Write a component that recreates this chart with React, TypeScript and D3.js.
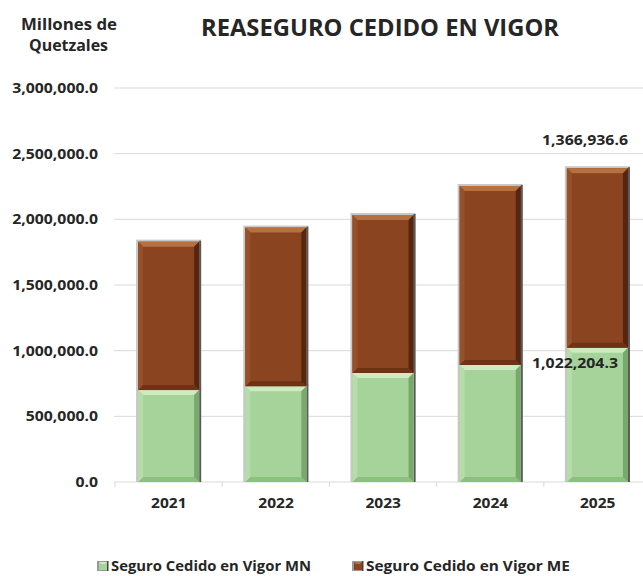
import React from "react";
import * as d3 from "d3";

const years = ["2021", "2022", "2023", "2024", "2025"];
const seguroMN = [700000, 730000, 830000, 891000, 1022204.3];
const seguroME = [1130000, 1207000, 1203000, 1363000, 1366936.6];
const yTicks = [0, 500000, 1000000, 1500000, 2000000, 2500000, 3000000];
const seriesNames = ["Seguro Cedido en Vigor MN", "Seguro Cedido en Vigor ME"];

const W = 643;
const H = 576;
const FONT = "'Open Sans', sans-serif";
const INK = "#262626";

const palettes = [
  { main: "#a5d39a", top: "#cdeac0", bottom: "#8cc07f", left: "#b6dcaa", right: "#78a86c" },
  { main: "#8a4520", top: "#b7703f", bottom: "#6e3314", left: "#96512a", right: "#552610" },
];

function Bevel({ x, y, w, h, p, b = 5 }: any) {
  const bb = Math.min(b, h / 2, w / 2);
  const x1 = x + w;
  const y1 = y + h;
  return (
    <g>
      <rect x={x - 2} y={y - 2} width={w + 4} height={h + 2} fill="#c8c8c8" />
      <rect x={x1} y={y - 1} width={2} height={h + 1} fill="#5a5a5a" />
      <rect x={x} y={y} width={w} height={h} fill={p.main} />
      <polygon points={`${x},${y} ${x1},${y} ${x1 - bb},${y + bb} ${x + bb},${y + bb}`} fill={p.top} />
      <polygon points={`${x},${y1} ${x1},${y1} ${x1 - bb},${y1 - bb} ${x + bb},${y1 - bb}`} fill={p.bottom} />
      <polygon points={`${x},${y} ${x + bb},${y + bb} ${x + bb},${y1 - bb} ${x},${y1}`} fill={p.left} />
      <polygon points={`${x1},${y} ${x1 - bb},${y + bb} ${x1 - bb},${y1 - bb} ${x1},${y1}`} fill={p.right} />
    </g>
  );
}

function LegendIcon({ x, y, p }: any) {
  return (
    <g>
      <rect x={x} y={y} width={11} height={10} fill="#9a9a9a" />
      <rect x={x + 2} y={y + 1} width={8} height={8} fill={p.main} />
      <polygon points={`${x + 2},${y + 1} ${x + 10},${y + 1} ${x + 8},${y + 3} ${x + 4},${y + 3}`} fill={p.top} />
      <rect x={x + 10} y={y} width={1.5} height={10} fill="#444" />
    </g>
  );
}

export default function App() {
  const x = d3.scaleBand<string>().domain(years).range([115, 651]).paddingInner(0.43).paddingOuter(0.215);
  const y = d3.scaleLinear().domain([0, 3000000]).range([482, 88]);
  const fmt = d3.format(",.1f");
  const step = x.step();

  const stackData = years.map((yr, i) => ({ year: yr, mn: seguroMN[i], me: seguroME[i] }));
  const stacked = d3.stack<any>().keys(["mn", "me"])(stackData);

  return (
    <svg width={W} height={H} style={{ position: "absolute", left: 0, top: 0 }} fontFamily={FONT}>
      <rect width={W} height={H} fill="#fff" />
      <text x={21} y={30} fontSize={16} fontWeight="bold" fill={INK} textLength={96} lengthAdjust="spacingAndGlyphs">Millones de</text>
      <text x={29} y={51} fontSize={16} fontWeight="bold" fill={INK} textLength={79} lengthAdjust="spacingAndGlyphs">Quetzales</text>
      <text x={201} y={36} fontSize={24} fontWeight="bold" fill={INK} textLength={358} lengthAdjust="spacingAndGlyphs">REASEGURO CEDIDO EN VIGOR</text>

      {yTicks.map((t) => (
        <g key={t}>
          <line x1={114} x2={643} y1={y(t)} y2={y(t)} stroke="#d9d9d9" strokeWidth={1} />
          <text transform={`translate(98,${y(t) + 5}) scale(1.13,1)`} textAnchor="end" fontSize={14} fontWeight="bold" fill={INK}>{fmt(t)}</text>
        </g>
      ))}

      {years.map((yr, i) => (
        <line key={yr} x1={115 + i * step} x2={115 + i * step} y1={482} y2={487} stroke="#d9d9d9" />
      ))}

      {stacked.map((s, si) =>
        s.map((d: any, i: number) => {
          const x0 = x(years[i])!;
          const yt = y(d[1]);
          const yb = y(d[0]);
          return <Bevel key={si + "-" + i} x={x0} y={yt} w={x.bandwidth()} h={yb - yt} p={palettes[si]} />;
        })
      )}

      {years.map((yr) => (
        <text key={yr} x={x(yr)! + x.bandwidth() / 2 - 17.5} y={508} fontSize={14} fontWeight="bold" fill={INK} textLength={35.5} lengthAdjust="spacingAndGlyphs">{yr}</text>
      ))}

      <text x={532} y={368} fontSize={14} fontWeight="bold" fill={INK} textLength={86} lengthAdjust="spacingAndGlyphs">{fmt(seguroMN[4])}</text>
      <text x={542} y={145} fontSize={14} fontWeight="bold" fill={INK} textLength={86} lengthAdjust="spacingAndGlyphs">{fmt(seguroME[4])}</text>

      {seriesNames.map((n, i) => {
        const lx = i === 0 ? 97 : 352;
        return (
          <g key={n}>
            <LegendIcon x={lx} y={561} p={palettes[i]} />
            <text x={lx + 14} y={571} fontSize={14} fontWeight="bold" fill={INK} textLength={i === 0 ? 200 : 204} lengthAdjust="spacingAndGlyphs">{n}</text>
          </g>
        );
      })}
    </svg>
  );
}
